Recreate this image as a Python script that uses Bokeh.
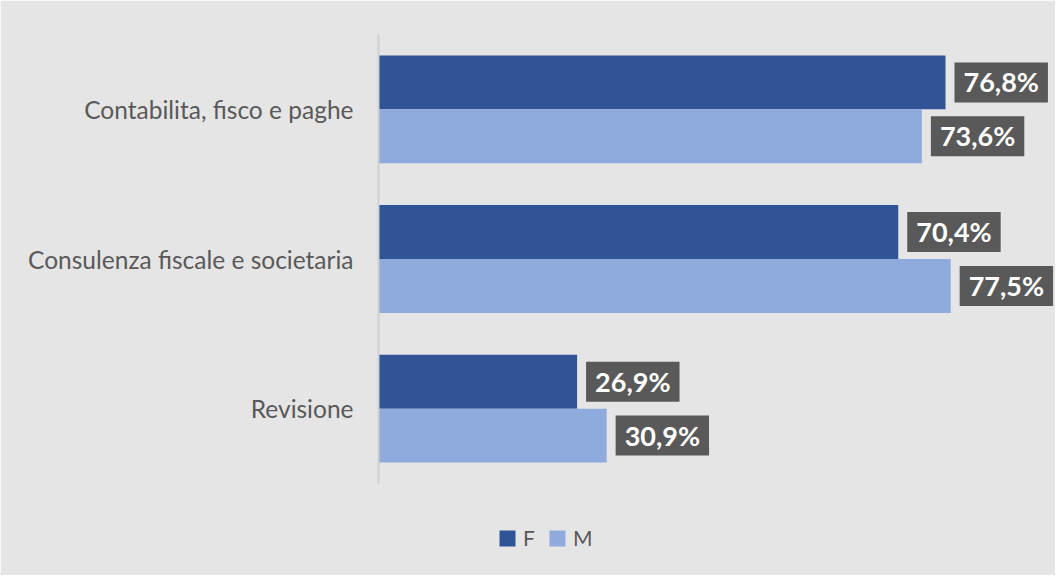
from bokeh.plotting import figure
from bokeh.models import Range1d, ColumnDataSource, Legend, LegendItem, FixedTicker
from bokeh.core.properties import value
from bokeh.embed import file_html
from bokeh.resources import INLINE

categories = ["Contabilita, fisco e paghe", "Consulenza fiscale e societaria", "Revisione"]
f_values = [76.8, 70.4, 26.9]
m_values = [73.6, 77.5, 30.9]
series = ["F", "M"]

def fmt(v):
    return f"{v:.1f}".replace(".", ",") + "%"

n = len(categories)
ypos = [n - i - 0.5 for i in range(n)]   # category centres, first category on top
off = 0.18
bh = 0.36

src = ColumnDataSource(dict(
    cat=categories,
    yf=[y + off for y in ypos],
    ym=[y - off for y in ypos],
    f=f_values,
    m=m_values,
    f_lbl=[fmt(v) for v in f_values],
    m_lbl=[fmt(v) for v in m_values],
))

BG = "#e5e5e5"
W = 1055
H = 575
TOP = 34
LEFT = 378
unit_px = 449 / n
px_per_pct = 567 / 76.8
p = figure(width=W, height=H, output_backend="svg", toolbar_location=None,
           y_range=Range1d(n - (H - TOP) / unit_px, n),
           x_range=Range1d(0, (W - LEFT) / px_per_pct),
           min_border_left=LEFT, min_border_top=TOP, min_border_right=0, min_border_bottom=0,
           background_fill_color=BG, border_fill_color=BG,
           outline_line_color=BG, outline_line_width=2)

rf = p.hbar(y="yf", right="f", left=0, height=bh, source=src,
            fill_color="#2F5597", line_color=None)
rm = p.hbar(y="ym", right="m", left=0, height=bh, source=src,
            fill_color="#8FAADC", line_color=None)

for col, yc, lbl in (("f", "yf", "f_lbl"), ("m", "ym", "m_lbl")):
    p.text(x=col, y=yc, text=lbl, source=src,
           x_offset=9, anchor="center_left", text_align="left", text_baseline="middle",
           text_color="white", text_font=value("Lato"), text_font_style="bold",
           text_font_size="27px", background_fill_color="#595959",
           padding=dict(left=9, right=9, top=3, bottom=4))

p.xaxis.visible = False
p.xgrid.visible = False
p.ygrid.visible = False
ax = p.yaxis[0]
ax.ticker = FixedTicker(ticks=ypos)
ax.major_label_overrides = {y: c for y, c in zip(ypos, categories)}
ax.bounds = (0, n)
ax.axis_line_color = "#d0d0d0"
ax.axis_line_width = 2
ax.major_tick_line_color = None
ax.minor_tick_line_color = None
ax.major_tick_out = 0
ax.major_label_standoff = 25
ax.major_label_text_font = "Lato"
ax.major_label_text_font_size = "24.5px"
ax.major_label_text_color = "#595959"

legend = Legend(items=[LegendItem(label=series[0], renderers=[rf]),
                       LegendItem(label=series[1], renderers=[rm])],
                location=(119, 25), orientation="horizontal",
                background_fill_alpha=0, border_line_color=None,
                glyph_width=20, glyph_height=20, label_standoff=6, spacing=4,
                label_text_font="Lato", label_text_font_size="21px",
                label_text_color="#595959", padding=0, margin=0)
p.add_layout(legend, "center")

open("out.html", "w").write(file_html(p, INLINE))
